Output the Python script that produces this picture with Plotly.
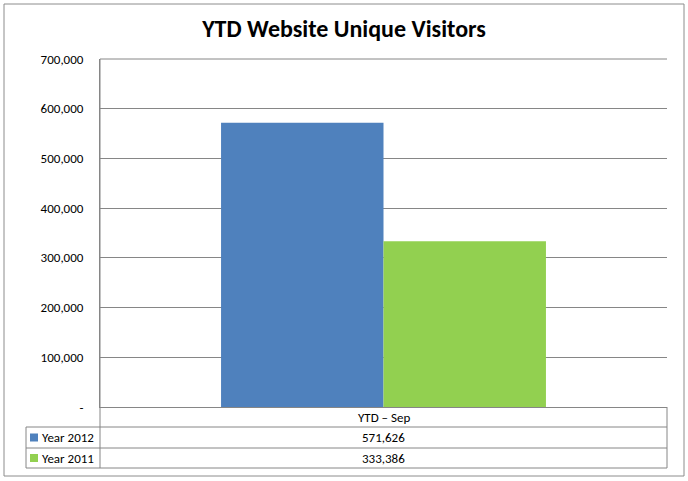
import plotly.graph_objects as go

categories = ["YTD – Sep"]
series_names = ["Year 2012", "Year 2011"]
values_2012 = [571626]
values_2011 = [333386]
colors = ["#4F81BD", "#92D050"]
tick_vals = [0, 100000, 200000, 300000, 400000, 500000, 600000, 700000]
tick_text = ["-", "100,000", "200,000", "300,000", "400,000", "500,000", "600,000", "700,000"]

W, H = 688, 481
L, R, T, B = 100, 667, 59, 407
FONT = "Carlito, Lato, sans-serif"
GRID = "#868686"

def px(x):
    return (x - L) / (R - L)

def py(y):
    return (B - y) / (B - T)

fig = go.Figure()
for name, vals, col in zip(series_names, [values_2012, values_2011], colors):
    fig.add_trace(go.Bar(x=categories, y=vals, name=name, marker_color=col,
                         marker_line_width=0, showlegend=False))

shapes = []
def line(x0, y0, x1, y1, color=GRID):
    shapes.append(dict(type="line", xref="paper", yref="paper",
                       x0=px(x0), y0=py(y0), x1=px(x1), y1=py(y1),
                       line=dict(color=color, width=1)))

# outer chart border
shapes.append(dict(type="rect", xref="paper", yref="paper",
                   x0=px(4), y0=py(476), x1=px(684), y1=py(4),
                   line=dict(color="#8C8C8C", width=1)))
# top gridline
line(L, T, R, T)
# data table lines
line(L, T, L, 468)
line(R, B, R, 468)
line(26, 427, R, 427)
line(26, 448, R, 448)
line(26, 468, R, 468)
line(26, 427, 26, 468)

annotations = []
row_y = [437.5, 458]
annotations.append(dict(xref="paper", yref="paper", x=px((L + R) / 2), y=py(417),
                        text=categories[0], showarrow=False, xanchor="center", yanchor="middle",
                        font=dict(family=FONT, size=13, color="#000")))
for name, vals, col, yy in zip(series_names, [values_2012, values_2011], colors, row_y):
    shapes.append(dict(type="rect", xref="paper", yref="paper",
                       x0=px(30), x1=px(38), y0=py(yy + 4), y1=py(yy - 4),
                       fillcolor=col, line=dict(width=0)))
    annotations.append(dict(xref="paper", yref="paper", x=px(40), y=py(yy),
                            text=name, showarrow=False, xanchor="left", yanchor="middle",
                            font=dict(family=FONT, size=13, color="#000")))
    annotations.append(dict(xref="paper", yref="paper", x=px((L + R) / 2), y=py(yy),
                            text=f"{vals[0]:,}", showarrow=False, xanchor="center", yanchor="middle",
                            font=dict(family=FONT, size=13, color="#000")))

fig.update_layout(
    width=W, height=H,
    margin=dict(l=L, r=W - R, t=T, b=H - B, pad=0),
    paper_bgcolor="white", plot_bgcolor="white",
    barmode="group", bargap=0.427, bargroupgap=0,
    title=dict(text="<b>YTD Website Unique Visitors</b>", x=0.5, xanchor="center",
               y=1 - 29 / H, yanchor="middle",
               font=dict(family=FONT, size=24, color="#000")),
    xaxis=dict(showticklabels=False, showgrid=False, zeroline=False,
               showline=True, linecolor=GRID, linewidth=1, ticks=""),
    yaxis=dict(range=[0, 700000], tickvals=tick_vals, ticktext=tick_text,
               showgrid=True, gridcolor=GRID, gridwidth=1, zeroline=False,
               showline=True, linecolor=GRID, linewidth=1, ticks="",
               ticklabelstandoff=13,
               tickfont=dict(family=FONT, size=13, color="#000")),
    shapes=shapes, annotations=annotations,
)

fig.write_html("out.html", config={"displayModeBar": False},
               post_script="document.body.style.margin='0';")
